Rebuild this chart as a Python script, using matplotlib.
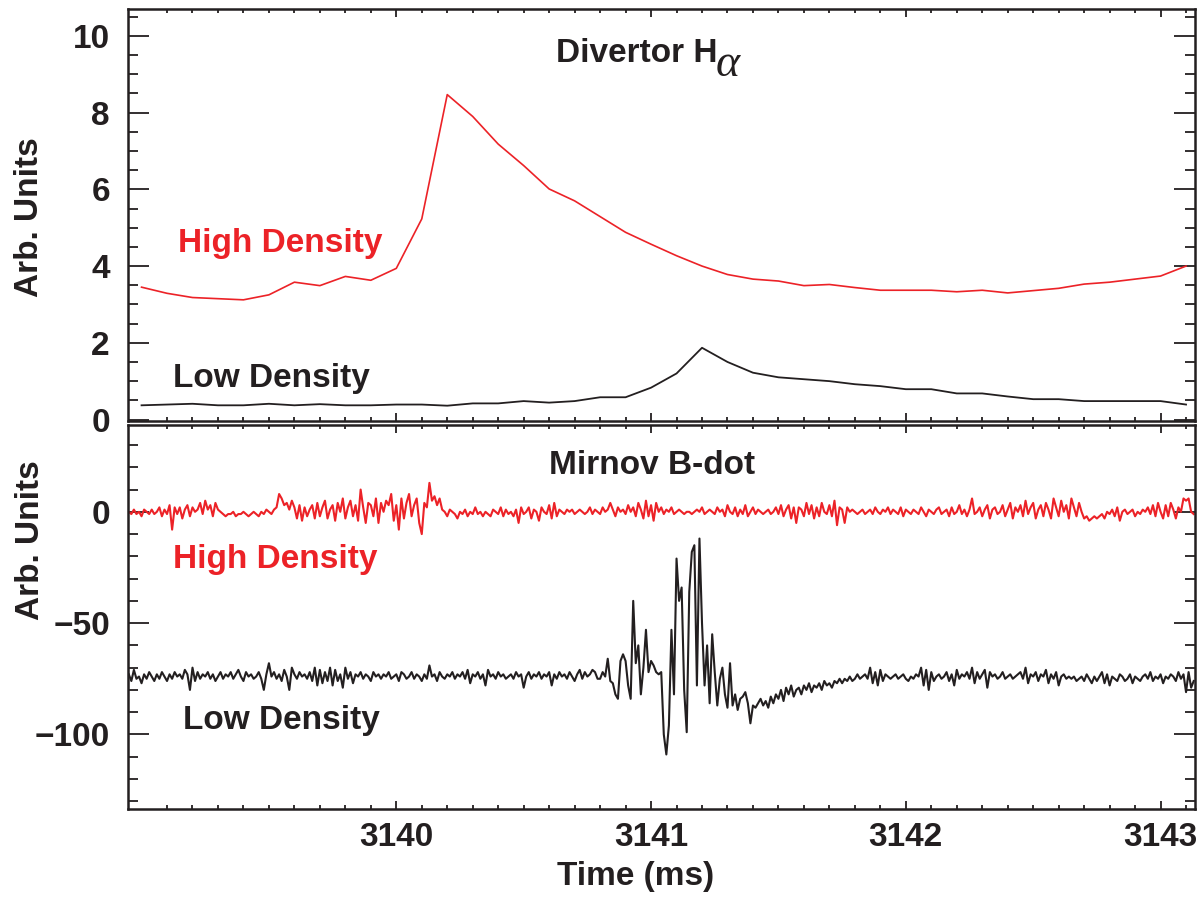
import numpy as np
import matplotlib
matplotlib.use("Agg")
import matplotlib.pyplot as plt
from matplotlib.ticker import MultipleLocator, FixedLocator

plt.rcParams['font.family'] = ['Liberation Sans Narrow', 'Liberation Sans', 'DejaVu Sans']
plt.rcParams['font.weight'] = 'bold'

RED = '#EC2227'
BLK = '#231F20'

# Divertor H-alpha, sampled every 0.1 ms from 3139.0 ms
ha_t0 = 3139.0
ha_high = [3.45, 3.29, 3.18, 3.15, 3.12, 3.25, 3.58, 3.49, 3.73, 3.63,
           3.94, 5.23, 8.47, 7.90, 7.18, 6.62, 6.01, 5.70, 5.29, 4.88,
           4.57, 4.27, 4.00, 3.78, 3.66, 3.61, 3.49, 3.52, 3.44, 3.37,
           3.37, 3.37, 3.33, 3.37, 3.30, 3.36, 3.42, 3.53, 3.58, 3.66,
           3.74, 4.00]
ha_low = [0.37, 0.39, 0.41, 0.37, 0.37, 0.41, 0.37, 0.40, 0.37, 0.37,
          0.39, 0.39, 0.36, 0.42, 0.42, 0.48, 0.44, 0.48, 0.58, 0.58,
          0.83, 1.20, 1.87, 1.50, 1.22, 1.10, 1.05, 1.00, 0.92, 0.87,
          0.79, 0.79, 0.68, 0.68, 0.60, 0.53, 0.53, 0.48, 0.48, 0.48,
          0.48, 0.39]

# Mirnov B-dot, sampled every 0.01 ms from 3138.95 ms (one row = 0.1 ms)
mir_t0 = 3138.95
mir_high = [
    0, -1, 1, -1, 0, -2, 1, 0, -1, 1,
    -1, 0, 2, -2, 1, -1, 3, -8, 2, -1,
    2, -3, 1, 3, -2, 2, 0, 1, 4, -1,
    5, 1, 3, -2, 4, 1, 0, -1, -2, -1,
    -1, 0, -2, -1, -1, 0, -1, -2, -1, 0,
    -1, -2, 0, -1, 1, 0, -1, 1, 2, 8,
    6, 3, 4, 1, 5, 2, -3, 3, -4, 2,
    -2, 1, 3, -3, 4, -2, 2, 5, -3, 1,
    3, -4, 4, 0, 6, -3, 2, 5, -2, 3,
    -4, 10, 2, -5, 4, 3, -2, 6, -5, 4,
    0, 5, 3, 8, -4, 3, -8, 6, -3, 4,
    8, -2, 3, 6, -5, -10, 4, 2, 13, 5,
    7, 3, 6, 1, 0, -2, 1, 0, -1, -3,
    0, -1, 1, -2, 0, -1, 2, -1, 0, -2,
    0, -1, -2, 1, 0, -1, 2, -2, 1, -1,
    0, -2, 1, -5, 2, -1, 0, 2, -3, 1,
    0, -4, 2, 0, -1, 3, -3, 4, -2, 1,
    0, -1, 1, 0, 1, -1, 0, 1, 0, -1,
    0, 2, -1, 1, 0, -1, 2, 0, 1, 4,
    1, -2, 2, 0, 1, -1, 3, 0, 2, -2,
    4, 1, -3, 5, -2, 3, -4, 4, 0, 2,
    -1, 1, 0, 2, -1, 0, 1, 0, -1, 0,
    0, -1, 0, 1, 0, 2, -1, 0, 1, 0,
    -1, 2, 0, 1, -2, 3, 0, -1, 2, -2,
    1, -1, 3, -2, 0, 2, -1, 1, 0, -1,
    0, 1, -1, 0, 2, -1, 3, -2, 1, 3,
    -3, 2, -5, 2, 1, -2, 4, -1, 3, -3,
    2, -2, 4, 0, -1, 3, -2, 5, -6, 2,
    1, -5, 2, 0, 1, 0, -1, 0, 1, -1,
    0, 1, -1, 2, 0, -1, 1, 0, 2, -1,
    1, 0, -1, 2, -2, 1, 0, -1, 1, 0,
    -1, 2, 0, -2, 1, 0, -1, 1, 2, -1,
    0, 1, -2, 2, -1, 0, 3, -1, 1, -2,
    1, 6, -1, 0, 2, -2, 1, 3, -3, 1,
    2, -1, 0, 3, -2, 1, 4, -3, 2, 0,
    3, -2, 5, -1, 2, 4, -3, 1, 3, -2,
    4, 1, -3, 6, 2, -2, 5, 0, 3, -3,
    6, 2, -2, 4, 0, -3, -2, -4, -3, -2,
    -3, -2, -1, -3, 0, -1, 1, -2, 2, -4,
    0, 1, -1, 0, 1, -2, 0, -1, 1, 0,
    2, -1, 3, -2, 4, 0, -3, 3, -2, 4,
    1, -3, 2, 0, 6, 5, 6, 0, -1,
]
mir_low = [
    -73, -76, -71, -75, -74, -77, -73, -75, -72, -74,
    -76, -73, -75, -72, -74, -76, -73, -75, -72, -74,
    -73, -75, -71, -73, -80, -70, -76, -72, -75, -73,
    -74, -72, -75, -73, -76, -74, -72, -75, -73, -74,
    -72, -75, -73, -71, -74, -76, -72, -74, -73, -75,
    -74, -72, -75, -80, -73, -68, -74, -72, -75, -73,
    -76, -71, -74, -80, -70, -73, -75, -72, -74, -73,
    -75, -72, -76, -70, -78, -71, -77, -72, -76, -70,
    -78, -71, -76, -73, -79, -70, -75, -72, -77, -73,
    -74, -72, -75, -73, -74, -76, -72, -74, -73, -75,
    -73, -74, -72, -75, -74, -73, -76, -72, -73, -75,
    -74, -72, -75, -73, -74, -76, -73, -75, -69, -74,
    -73, -76, -72, -74, -75, -73, -74, -72, -75, -73,
    -74, -72, -75, -71, -77, -73, -74, -72, -75, -73,
    -78, -71, -74, -73, -75, -72, -74, -73, -75, -74,
    -73, -75, -72, -74, -73, -79, -74, -72, -75, -73,
    -74, -72, -75, -73, -74, -72, -78, -73, -75, -72,
    -74, -73, -75, -72, -74, -76, -73, -71, -75, -72,
    -74, -73, -71, -72, -75, -75, -72, -74, -66, -76,
    -77, -82, -84, -67, -64, -67, -78, -84, -40, -68,
    -60, -82, -70, -53, -72, -67, -69, -72, -73, -72,
    -100, -109, -96, -53, -82, -21, -40, -34, -80, -99,
    -36, -18, -15, -78, -12, -50, -78, -60, -86, -55,
    -72, -87, -75, -70, -82, -88, -68, -87, -82, -89,
    -84, -83, -81, -86, -95, -87, -88, -86, -84, -87,
    -85, -88, -83, -86, -82, -84, -80, -85, -79, -82,
    -78, -83, -80, -79, -82, -78, -80, -77, -81, -78,
    -79, -77, -80, -76, -78, -77, -79, -76, -77, -75,
    -77, -75, -76, -74, -76, -75, -73, -75, -74, -73,
    -75, -70, -77, -72, -78, -71, -76, -73, -74, -75,
    -74, -73, -75, -74, -73, -75, -76, -74, -75, -73,
    -74, -70, -78, -71, -80, -72, -76, -74, -73, -75,
    -74, -72, -76, -73, -78, -71, -75, -73, -74, -72,
    -75, -70, -77, -72, -75, -73, -71, -79, -72, -74,
    -73, -75, -74, -72, -75, -74, -73, -75, -74, -73,
    -72, -75, -70, -77, -73, -74, -72, -76, -73, -74,
    -71, -77, -73, -75, -72, -78, -74, -73, -75, -74,
    -75, -74, -76, -75, -74, -76, -73, -75, -77, -74,
    -76, -74, -72, -77, -73, -78, -74, -75, -76, -73,
    -74, -76, -75, -73, -77, -74, -75, -76, -74, -73,
    -75, -72, -76, -74, -75, -73, -77, -74, -75, -73,
    -74, -76, -72, -75, -73, -81, -72, -79, -76,
]

x_major = [3140, 3141, 3142, 3143]

ha_t = ha_t0 + 0.1 * np.arange(len(ha_high))
mh_t = mir_t0 + 0.01 * np.arange(len(mir_high))
ml_t = mir_t0 + 0.01 * np.arange(len(mir_low))

fig = plt.figure(figsize=(12, 9.01), dpi=100)
ax1 = fig.add_axes([0.1067, 0.5327, 0.8891, 0.4568])
ax2 = fig.add_axes([0.1067, 0.1021, 0.8891, 0.4262])

ax1.plot(ha_t, ha_high, color=RED, lw=1.2)
ax1.plot(ha_t, ha_low, color=BLK, lw=1.3)
ax2.plot(mh_t, mir_high, color=RED, lw=1.5)
ax2.plot(ml_t, mir_low, color=BLK, lw=1.5)

minor_x = np.round(np.arange(3139.1, 3143.15, 0.1), 2)
for ax in (ax1, ax2):
    ax.set_xlim(3138.947, 3143.135)
    ax.xaxis.set_major_locator(FixedLocator(x_major))
    ax.xaxis.set_minor_locator(FixedLocator(minor_x))
    ax.tick_params(which='both', direction='in', top=True, right=True,
                   labelsize=24, width=1.3, color=BLK, labelcolor=BLK)
    ax.tick_params(axis='x', which='major', length=6, pad=9)
    ax.tick_params(axis='x', which='minor', length=3)
    ax.tick_params(axis='y', which='major', length=15, pad=13)
    ax.tick_params(axis='y', which='minor', length=7.5)
    for s in ax.spines.values():
        s.set_linewidth(1.8)
        s.set_color(BLK)

ax1.set_ylim(-0.04, 10.69)
ax1.yaxis.set_major_locator(MultipleLocator(2))
ax1.yaxis.set_minor_locator(MultipleLocator(0.5))
ax1.tick_params(axis='x', labelbottom=False)

ax2.set_ylim(-133.5, 39)
ax2.yaxis.set_major_locator(MultipleLocator(50))
ax2.yaxis.set_minor_locator(MultipleLocator(10))

fs = 24
title = fig.text(0.4633, 0.9315, 'Divertor H', fontsize=fs, color=BLK, va='baseline')
# subscript alpha placed just after the "H"
ax1.annotate('\u03b1', xy=(1, 0), xycoords=title, xytext=(-1, 3),
             textcoords='offset points', ha='left', va='center',
             fontsize=33, color=BLK, fontweight='normal', fontstyle='italic',
             family=['Liberation Serif', 'DejaVu Serif'])
fig.text(0.1483, 0.7207, 'High Density', fontsize=fs, color=RED, va='baseline')
fig.text(0.1442, 0.5708, 'Low Density', fontsize=fs, color=BLK, va='baseline')
fig.text(0.4575, 0.4740, 'Mirnov B-dot', fontsize=fs, color=BLK, va='baseline')
fig.text(0.1442, 0.3693, 'High Density', fontsize=fs, color=RED, va='baseline')
fig.text(0.1525, 0.1906, 'Low Density', fontsize=fs, color=BLK, va='baseline')

fig.text(0.0242, 0.7592, 'Arb. Units', fontsize=fs, color=BLK, rotation=90,
         ha='center', va='center')
fig.text(0.0258, 0.4007, 'Arb. Units', fontsize=fs, color=BLK, rotation=90,
         ha='center', va='center')
fig.text(0.53, 0.0178, 'Time (ms)', fontsize=fs, color=BLK, ha='center',
         va='baseline')

fig.savefig('out.png', dpi=100)
